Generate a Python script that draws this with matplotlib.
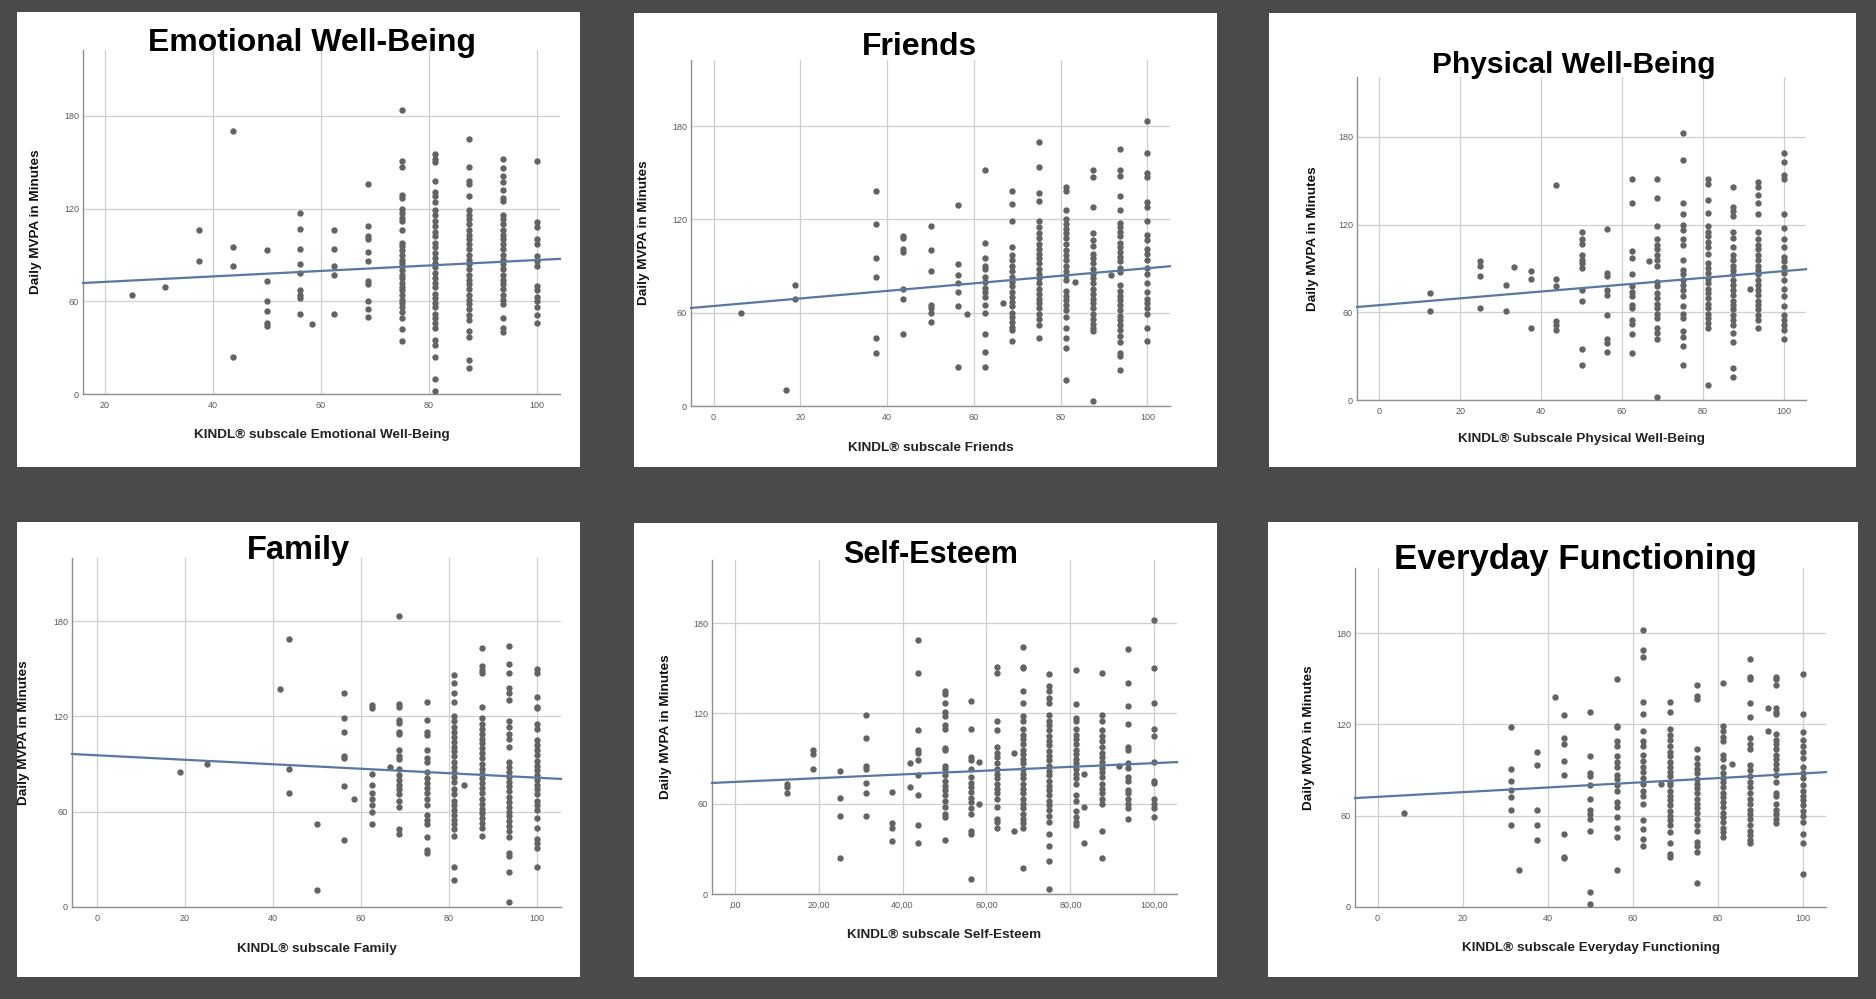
import matplotlib
matplotlib.use("Agg")
import matplotlib.pyplot as plt
from matplotlib.patches import Rectangle

plt.rcParams['font.family'] = ['Liberation Sans', 'DejaVu Sans']

# ---- data (KINDL score -> daily MVPA minutes) ----
titles = ["Emotional Well-Being", "Friends", "Physical Well-Being",
          "Family", "Self-Esteem", "Everyday Functioning"]
xlabels = ["KINDL\u00ae subscale Emotional Well-Being", "KINDL\u00ae subscale Friends",
           "KINDL\u00ae Subscale Physical Well-Being", "KINDL\u00ae subscale Family",
           "KINDL\u00ae subscale Self-Esteem", "KINDL\u00ae subscale Everyday Functioning"]

emo_scores = [25, 31.25, 37.5, 43.75, 50, 56.25, 58.33, 62.5, 68.75, 75, 81.25, 87.5, 93.75, 100]
emo_mvpa = [
    [64], [69], [106, 86], [170, 95, 83, 24], [93, 73, 60, 54, 46, 44],
    [117, 107, 94, 84, 78, 67, 64, 62, 52], [45], [106, 94, 83, 77, 52],
    [136, 109, 102, 100, 92, 86, 73, 71, 60, 55, 50],
    [184, 151, 147, 129, 127, 120, 117, 114, 112, 106, 98, 96, 93, 90, 87, 85, 83, 80, 77, 75,
     72, 69, 67, 64, 61, 59, 56, 53, 49, 42, 34],
    [155, 152, 150, 138, 131, 128, 124, 119, 116, 112, 109, 105, 102, 98, 95, 91, 88, 85, 82, 78,
     75, 72, 69, 65, 62, 59, 56, 52, 49, 46, 43, 35, 32, 24, 10, 2],
    [165, 147, 138, 136, 128, 119, 116, 113, 110, 106, 103, 100, 97, 94, 90, 87, 84, 81, 77, 74,
     71, 68, 64, 61, 58, 55, 51, 48, 41, 37, 22, 17],
    [152, 146, 141, 137, 132, 127, 125, 116, 113, 110, 106, 103, 100, 97, 94, 90, 87, 84, 81, 77,
     74, 71, 68, 64, 61, 58, 49, 43, 40],
    [151, 111, 108, 100, 97, 89, 86, 83, 70, 67, 63, 60, 56, 51, 46],
]

fri_scores = [6.25, 16.67, 18.75, 37.5, 43.75, 50, 56.25, 58.33, 62.5, 66.67, 68.75, 75,
              81.25, 83.33, 87.5, 91.67, 93.75, 100]
fri_mvpa = [
    [60], [10], [78, 69], [138, 117, 95, 83, 44, 34], [109, 108, 101, 99, 75, 69, 46],
    [116, 100, 87, 65, 63, 60, 54], [129, 91, 84, 79, 73, 64, 25], [59],
    [152, 105, 95, 90, 88, 83, 80, 76, 73, 70, 65, 60, 46, 35, 25], [66],
    [138, 130, 119, 102, 97, 94, 90, 87, 83, 80, 77, 73, 70, 67, 64, 60, 57, 54, 51, 49, 42],
    [170, 154, 137, 132, 119, 115, 111, 108, 104, 101, 98, 95, 92, 88, 85, 82, 79, 75, 72, 69,
     66, 63, 59, 56, 52, 44],
    [141, 138, 126, 120, 117, 114, 111, 108, 104, 100, 97, 94, 90, 87, 84, 81, 74, 71, 68, 65,
     62, 57, 50, 44, 37, 17],
    [80],
    [152, 147, 128, 111, 107, 103, 98, 95, 92, 88, 85, 82, 79, 75, 72, 69, 66, 63, 59, 56, 53,
     50, 48, 3],
    [84],
    [165, 152, 148, 135, 126, 118, 115, 112, 109, 105, 102, 99, 96, 93, 89, 86, 78, 74, 71, 68,
     65, 62, 58, 55, 52, 49, 45, 41, 34, 32, 23],
    [183, 163, 150, 147, 131, 128, 119, 110, 107, 101, 98, 94, 89, 85, 79, 73, 69, 66, 63, 59, 50, 42],
]

phy_scores = [12.5, 25, 31.25, 33.33, 37.5, 43.75, 50, 56.25, 62.5, 66.67, 68.75, 75, 81.25,
              87.5, 91.67, 93.75, 100]
phy_mvpa = [
    [73, 61], [95, 92, 85, 63], [79, 61], [91], [88, 83, 49], [147, 83, 78, 54, 51, 48],
    [115, 110, 107, 99, 96, 94, 90, 75, 68, 35, 24], [117, 87, 85, 75, 72, 58, 42, 39, 33],
    [151, 135, 102, 97, 86, 78, 74, 71, 65, 63, 55, 52, 45, 32], [95],
    [151, 138, 119, 110, 106, 103, 99, 96, 92, 81, 78, 73, 70, 66, 63, 59, 56, 49, 46, 42, 2],
    [183, 164, 135, 127, 120, 116, 110, 106, 96, 89, 86, 82, 79, 75, 71, 64, 59, 56, 47, 43, 37, 24],
    [151, 148, 137, 128, 119, 115, 112, 108, 105, 100, 94, 90, 87, 83, 80, 76, 73, 70, 66, 63,
     59, 56, 53, 49, 10],
    [146, 132, 129, 126, 115, 111, 105, 99, 96, 92, 89, 86, 82, 79, 75, 72, 68, 65, 62, 58, 55,
     51, 46, 40, 22, 16],
    [76],
    [149, 146, 140, 135, 127, 115, 110, 106, 103, 99, 96, 92, 89, 86, 82, 79, 75, 72, 68, 65,
     62, 58, 55, 49],
    [169, 163, 154, 151, 127, 118, 110, 105, 98, 95, 91, 87, 82, 76, 71, 64, 58, 55, 51, 48, 42],
]

fam_scores = [18.75, 25, 41.67, 43.75, 50, 56.25, 58.33, 62.5, 66.67, 68.75, 75, 81.25, 83.33,
              87.5, 93.75, 100]
fam_mvpa = [
    [85], [90], [137], [169, 87, 72], [52, 11], [135, 119, 110, 95, 94, 76, 42], [68],
    [127, 125, 84, 77, 72, 68, 64, 60, 52], [88],
    [183, 128, 126, 118, 116, 110, 109, 99, 95, 93, 87, 83, 80, 77, 74, 71, 67, 63, 49, 46],
    [129, 118, 110, 108, 99, 94, 91, 85, 81, 78, 75, 72, 68, 64, 58, 55, 52, 44, 36, 34],
    [146, 141, 135, 129, 120, 117, 113, 110, 107, 104, 101, 98, 95, 91, 88, 85, 82, 79, 74, 71,
     67, 64, 61, 58, 55, 52, 49, 45, 25, 17],
    [77],
    [163, 152, 149, 147, 126, 119, 115, 112, 109, 106, 103, 100, 97, 94, 90, 87, 84, 81, 78, 75,
     72, 68, 65, 62, 59, 56, 53, 50, 45],
    [164, 153, 147, 138, 135, 130, 117, 113, 109, 106, 101, 91, 88, 85, 82, 79, 76, 73, 69, 66,
     63, 60, 57, 54, 51, 48, 44, 34, 32, 22, 3],
    [150, 147, 132, 126, 125, 115, 112, 105, 102, 99, 96, 92, 89, 86, 83, 80, 77, 74, 71, 67,
     64, 61, 56, 50, 43, 40, 37, 25],
]

self_scores = [12.5, 18.75, 25, 31.25, 37.5, 41.67, 43.75, 50, 56.25, 58.33, 62.5, 66.67,
               68.75, 75, 81.25, 83.33, 87.5, 91.67, 93.75, 100]
self_mvpa = [
    [73, 71, 67], [96, 93, 83], [82, 64, 52, 24], [119, 104, 85, 83, 74, 67, 52],
    [68, 47, 44, 35], [87, 71], [169, 147, 109, 96, 94, 89, 79, 66, 46, 34],
    [135, 133, 127, 121, 118, 112, 110, 97, 96, 85, 83, 79, 75, 72, 69, 66, 62, 58, 53, 51, 36],
    [128, 110, 91, 89, 83, 78, 74, 71, 68, 64, 61, 57, 53, 42, 40, 10], [88, 60],
    [151, 147, 115, 109, 98, 94, 91, 87, 83, 80, 77, 73, 70, 67, 63, 58, 50, 48, 44], [94, 42],
    [164, 151, 150, 135, 127, 118, 115, 110, 106, 103, 100, 96, 93, 90, 87, 83, 80, 77, 73, 70,
     67, 63, 60, 57, 53, 50, 47, 44, 17],
    [146, 138, 135, 130, 127, 119, 115, 112, 109, 105, 102, 99, 95, 92, 89, 85, 82, 79, 75, 72,
     69, 66, 62, 59, 56, 52, 48, 40, 32, 22, 3],
    [149, 126, 117, 115, 110, 106, 103, 100, 96, 93, 90, 87, 83, 80, 77, 73, 66, 62, 55, 51, 48, 46],
    [80, 58, 34],
    [147, 119, 115, 109, 105, 102, 98, 94, 91, 88, 84, 81, 78, 73, 70, 67, 63, 60, 42, 24],
    [85],
    [163, 140, 125, 113, 98, 96, 87, 84, 78, 75, 69, 67, 63, 60, 57, 50],
    [182, 150, 127, 110, 105, 88, 75, 74, 63, 60, 57, 51],
]

every_scores = [6.25, 31.25, 33.33, 37.5, 41.67, 43.75, 50, 56.25, 62.5, 66.67, 68.75, 75,
                81.25, 83.33, 87.5, 91.67, 93.75, 100]
every_mvpa = [
    [62], [118, 91, 83, 77, 72, 64, 54], [24], [102, 93, 64, 54, 44], [138],
    [126, 111, 107, 96, 87, 48, 33, 32], [128, 99, 88, 86, 80, 71, 64, 61, 58, 50, 10, 2],
    [150, 119, 118, 109, 106, 99, 95, 92, 87, 84, 80, 76, 69, 66, 59, 52, 46, 24],
    [182, 169, 164, 135, 127, 116, 109, 106, 100, 96, 92, 89, 85, 81, 76, 73, 68, 57, 51, 45, 40],
    [81],
    [135, 128, 117, 113, 110, 106, 102, 99, 95, 92, 89, 86, 82, 80, 76, 73, 70, 67, 63, 60, 57,
     54, 49, 42, 35, 33],
    [146, 139, 137, 104, 98, 94, 91, 88, 84, 81, 78, 75, 71, 68, 65, 62, 58, 54, 50, 43, 40, 36, 16],
    [147, 119, 116, 112, 109, 100, 97, 92, 88, 85, 82, 79, 75, 72, 69, 66, 62, 59, 56, 52, 49, 46],
    [94],
    [163, 151, 150, 134, 125, 111, 107, 104, 93, 90, 86, 82, 79, 75, 71, 68, 64, 61, 58, 54, 50,
     47, 44, 42],
    [131, 116],
    [151, 150, 146, 131, 128, 127, 114, 110, 107, 104, 100, 97, 94, 91, 87, 82, 75, 73, 68, 64,
     61, 58, 55],
    [153, 127, 115, 110, 106, 102, 98, 92, 88, 85, 80, 76, 73, 70, 67, 63, 60, 56, 48, 42, 22],
]

# fitted line (intercept, slope) per panel
fit_intercept = [69.0, 64.3, 64.9, 95.5, 74.5, 72.4]
fit_slope = [0.177, 0.243, 0.233, -0.141, 0.125, 0.154]

all_scores = [emo_scores, fri_scores, phy_scores, fam_scores, self_scores, every_scores]
all_mvpa = [emo_mvpa, fri_mvpa, phy_mvpa, fam_mvpa, self_mvpa, every_mvpa]

xticks_list = [[20, 40, 60, 80, 100]] + [[0, 20, 40, 60, 80, 100]] * 5
self_ticklabels = [",00", "20,00", "40,00", "60,00", "80,00", "100,00"]

# ---- layout (pixels in a 1876x999 canvas) ----
W, H = 1876, 999
panel_px = [(17, 12, 580, 467), (634, 13, 1217, 467), (1269, 13, 1856, 467),
            (17, 522, 580, 977), (634, 523, 1217, 977), (1268, 522, 1858, 977)]
axes_px = [(83, 50, 560, 394), (691, 60, 1170, 406), (1357, 77, 1806, 400),
           (72, 558, 561, 907), (712, 560, 1177, 894), (1355, 568, 1826, 907)]
xlims = [(16, 104.3), (-5.2, 105.2), (-5.5, 105.5), (-5.7, 105.5), (-5.4, 105.4), (-5.3, 105.4)]
ylims = [222.6, 222.5, 221, 219.7, 222, 222.8]
title_px = [(312, 43), (919, 47), (1574, 65), (298, 550), (931, 555), (1575, 560)]
title_size = [23, 23, 21.5, 23.5, 22, 25]

fig = plt.figure(figsize=(W / 100, H / 100), dpi=100, facecolor='#4a4a4a')

for i in range(6):
    l, t, r, b = panel_px[i]
    fig.add_artist(Rectangle((l / W, 1 - b / H), (r - l) / W, (b - t) / H,
                             transform=fig.transFigure, facecolor='white',
                             edgecolor='none', zorder=-1))

    l, t, r, b = axes_px[i]
    ax = fig.add_axes([l / W, 1 - b / H, (r - l) / W, (b - t) / H])
    ax.set_facecolor('white')

    xs, ys = [], []
    for score, vals in zip(all_scores[i], all_mvpa[i]):
        xs += [score] * len(vals)
        ys += vals
    ax.scatter(xs, ys, s=21, color='#636363', linewidths=0, zorder=3)

    x0, x1 = xlims[i]
    ax.plot([x0, x1], [fit_intercept[i] + fit_slope[i] * x0, fit_intercept[i] + fit_slope[i] * x1],
            color='#5878a0', lw=1.6, zorder=4, clip_on=False)

    ax.set_xlim(x0, x1)
    ax.set_ylim(0, ylims[i])
    ax.set_xticks(xticks_list[i])
    if i == 4:
        ax.set_xticklabels(self_ticklabels)
    ax.set_yticks([0, 60, 120, 180])
    ax.grid(True, color='#cfcfcf', lw=0.9, zorder=0)
    ax.set_axisbelow(True)
    for side in ['top', 'right']:
        ax.spines[side].set_visible(False)
    for side in ['left', 'bottom']:
        ax.spines[side].set_color('#8f8f8f')
        ax.spines[side].set_linewidth(1.0)
    ax.tick_params(length=0, labelsize=6.5, labelcolor='#5a5a5a')
    ax.tick_params(axis='y', pad=3)
    ax.tick_params(axis='x', pad=5)

    ax.set_ylabel("Daily MVPA in Minutes", fontsize=9.7, fontweight='bold', color='#111111')
    ax.yaxis.set_label_coords(-0.085, 0.5)
    ax.set_xlabel(xlabels[i], fontsize=9.7, fontweight='bold', color='#222222')
    ax.xaxis.set_label_coords(0.5, -0.103)

    tx, ty = title_px[i]
    fig.text(tx / W, 1 - ty / H, titles[i], fontsize=title_size[i], fontweight='bold',
             ha='center', va='center', color='black')

fig.savefig('out.png', dpi=100, facecolor=fig.get_facecolor())
